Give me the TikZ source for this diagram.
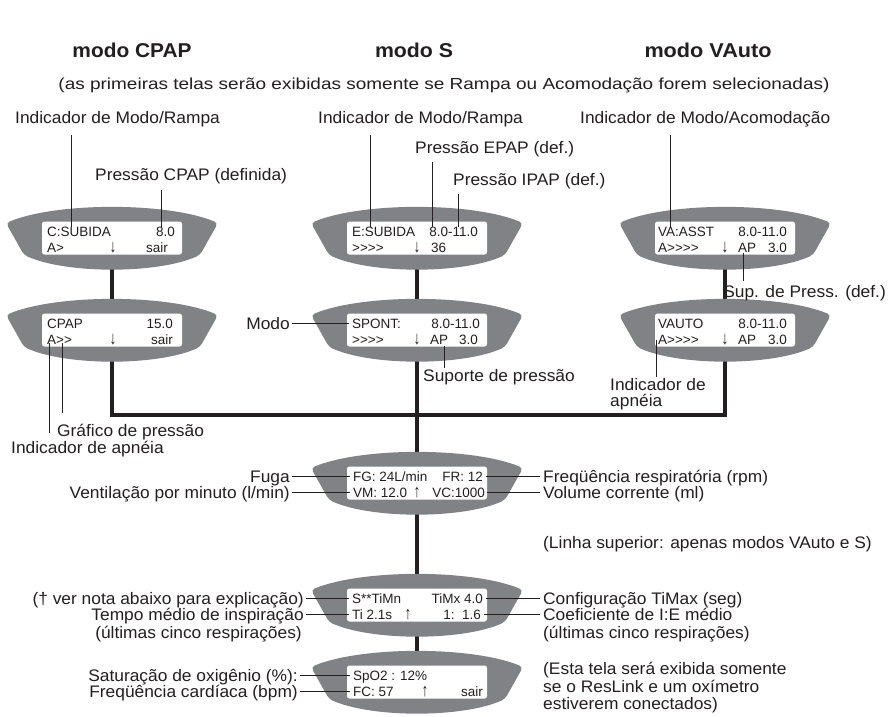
\documentclass[tikz,border=0pt]{standalone}
\usepackage{fontspec}
\usepackage{graphicx}
\setmainfont{Liberation Sans}[FakeStretch=1.04]
\newfontfamily\lcdfont{Liberation Sans}
\newfontfamily\hdfont{Liberation Sans}
\usetikzlibrary{calc}
\definecolor{scrgray}{RGB}{128,130,133}
\definecolor{ink}{RGB}{35,31,32}
\tikzset{
  lbl/.style={inner sep=0pt, text=ink, font=\fontsize{16.7}{19}\selectfont},
  lcdtxt/.style={inner sep=0pt, text=ink, font=\lcdfont\fontsize{13.5}{15}\selectfont},
  conn/.style={line width=3.7pt, draw=ink},
  lead/.style={line width=1pt, draw=ink},
  lcdwin/.style={fill=white, rounded corners=2.5pt, minimum width=140pt, minimum height=33pt, inner sep=0pt},
  hdr/.style={inner sep=0pt, anchor=base, text=ink},
}
\newcommand\lcdscreen[1]{%
  \fill[scrgray, rounded corners=4pt] ($(#1)+(-106,-15)$) .. controls ($(#1)+(-55,-36)$) and ($(#1)+(55,-36)$) .. ($(#1)+(106,-15)$) -- ($(#1)+(88,17)$) .. controls ($(#1)+(45,36)$) and ($(#1)+(-45,36)$) .. ($(#1)+(-88,17)$) -- cycle;
  \node[lcdwin] (#1w) at (#1) {};}
\newcommand\scrtxt[5]{\node[lcdtxt,anchor=#2] (#1) at ($(#3)+(#4)$) {#5};}
\newcommand\leadline[3]{\coordinate (#1a) at (#2); \coordinate (#1b) at (#3); \draw[lead] (#1a) -- (#1b);}
\newcommand\dnarrow{\scalebox{1}[1.35]{↓}}
\newcommand\uparrowlcd{\scalebox{1}[1.35]{↑}}
\begin{document}
\begin{tikzpicture}[x=1pt,y=-1pt]
\useasboundingbox (0,0) rectangle (891,716);
\fill[white] (0,0) rectangle (891,716);

% headers
\node[hdr] (h1) at (132,57) {\resizebox{119pt}{\height}{\hdfont\fontsize{20}{22}\selectfont\bfseries modo CPAP}};
\node[hdr] (h2) at (414,57) {\resizebox{78pt}{\height}{\hdfont\fontsize{20}{22}\selectfont\bfseries modo S}};
\node[hdr] (h3) at (708,57) {\resizebox{127pt}{\height}{\hdfont\fontsize{20}{22}\selectfont\bfseries modo VAuto}};
\node[hdr] (sub) at (444,89) {\resizebox{771pt}{\height}{\hdfont\fontsize{16}{18}\selectfont (as primeiras telas serão exibidas somente se Rampa ou Acomodação forem selecionadas)}};

% screen centres
\coordinate (A1) at (112,238);
\coordinate (A2) at (112,330);
\coordinate (B1) at (417,238);
\coordinate (B2) at (417,330);
\coordinate (C1) at (725,238);
\coordinate (C2) at (725,330);
\coordinate (D) at (417,483);
\coordinate (E) at (417,605);
\coordinate (F) at (417,682);
\coordinate (bus) at (417,415);

% connectors
\draw[conn] (A1) -- (A2);
\draw[conn] (C1) -- (C2);
\draw[conn] (A2) |- (bus) -| (C2);
\draw[conn] (B1) -- (B2) -- (D) -- (E) -- (F);

% screens
\lcdscreen{A1}\lcdscreen{A2}\lcdscreen{B1}\lcdscreen{B2}\lcdscreen{C1}\lcdscreen{C2}
\lcdscreen{D}\lcdscreen{E}\lcdscreen{F}

% screen texts
\scrtxt{a1a}{base west}{A1}{-65,-2}{C:SUBIDA}
\scrtxt{a1b}{base east}{A1}{63,-2}{8.0}
\scrtxt{a1c}{base west}{A1}{-65,14}{A>}
\scrtxt{a1d}{base}{A1}{1,14}{\dnarrow}
\scrtxt{a1e}{base east}{A1}{56,14}{sair}

\scrtxt{a2a}{base west}{A2}{-65,-2}{CPAP}
\scrtxt{a2b}{base east}{A2}{61,-2}{15.0}
\scrtxt{a2c}{base west}{A2}{-65,14}{A>>}
\scrtxt{a2d}{base}{A2}{1,14}{\dnarrow}
\scrtxt{a2e}{base east}{A2}{61,14}{sair}

\scrtxt{b1a}{base west}{B1}{-65,-2}{E:SUBIDA}
\scrtxt{b1b}{base east}{B1}{61,-2}{8.0-11.0}
\scrtxt{b1c}{base west}{B1}{-65,14}{>>>>}
\scrtxt{b1d}{base}{B1}{0,14}{\dnarrow}
\scrtxt{b1e}{base west}{B1}{14,14}{36}

\scrtxt{b2a}{base west}{B2}{-65,-2}{SPONT:}
\scrtxt{b2b}{base east}{B2}{63,-2}{8.0-11.0}
\scrtxt{b2c}{base west}{B2}{-65,14}{>>>>}
\scrtxt{b2d}{base}{B2}{0,14}{\dnarrow}
\scrtxt{b2e}{base west}{B2}{13,14}{AP}
\scrtxt{b2f}{base east}{B2}{61,14}{3.0}

\scrtxt{c1a}{base west}{C1}{-67,-2}{VA:ASST}
\scrtxt{c1b}{base east}{C1}{62,-2}{8.0-11.0}
\scrtxt{c1c}{base west}{C1}{-67,14}{A>>>>}
\scrtxt{c1d}{base}{C1}{0,14}{\dnarrow}
\scrtxt{c1e}{base west}{C1}{13,14}{AP}
\scrtxt{c1f}{base east}{C1}{62,14}{3.0}

\scrtxt{c2a}{base west}{C2}{-67,-2}{VAUTO}
\scrtxt{c2b}{base east}{C2}{62,-2}{8.0-11.0}
\scrtxt{c2c}{base west}{C2}{-67,14}{A>>>>}
\scrtxt{c2d}{base}{C2}{0,14}{\dnarrow}
\scrtxt{c2e}{base west}{C2}{13,14}{AP}
\scrtxt{c2f}{base east}{C2}{62,14}{3.0}

\scrtxt{da}{base west}{D}{-64,-2}{FG: 24L/min}
\scrtxt{db}{base east}{D}{66,-2}{FR: 12}
\scrtxt{dc}{base west}{D}{-64,14}{VM: 12.0}
\scrtxt{dd}{base}{D}{0,14}{\uparrowlcd}
\scrtxt{de}{base east}{D}{68,14}{VC:1000}

\scrtxt{ea}{base west}{E}{-65,-2}{S**TiMn}
\scrtxt{eb}{base east}{E}{66,-2}{TiMx 4.0}
\scrtxt{ec}{base west}{E}{-65,14}{Ti 2.1s}
\scrtxt{ed}{base}{E}{-9,14}{\uparrowlcd}
\scrtxt{ee}{base east}{E}{64,14}{1:\ \ 1.6}

\scrtxt{fa}{base west}{F}{-64,-2}{SpO2 : 12\%}
\scrtxt{fc}{base west}{F}{-64,14}{FC: 57}
\scrtxt{fd}{base}{F}{8,14}{\uparrowlcd}
\scrtxt{fe}{base east}{F}{66,14}{sair}

% labels
\node[lbl,anchor=base west] (lA) at (15,123) {Indicador de Modo/Rampa};
\node[lbl,anchor=base west] (lCP) at (95,180) {Pressão CPAP (definida)};
\node[lbl,anchor=base west] (lB) at (318,123) {Indicador de Modo/Rampa};
\node[lbl,anchor=base west] (lEP) at (415,153) {Pressão EPAP (def.)};
\node[lbl,anchor=base west] (lIP) at (453,185) {Pressão IPAP (def.)};
\node[lbl,anchor=base west] (lC) at (580,123) {Indicador de Modo/Acomodação};
\node[lbl,anchor=base east] (lSup) at (886,297) {Sup. de Press. (def.)};
\node[lbl,anchor=base east] (lModo) at (290,329) {Modo};
\node[lbl,anchor=base west] (lSP) at (423,381) {Suporte de pressão};
\node[lbl,anchor=base west] (lVA1) at (610,390) {Indicador de};
\node[lbl,anchor=base west] (lVA2) at (610,406) {apnéia};
\node[lbl,anchor=base west] (lGr) at (57,436) {Gráfico de pressão};
\node[lbl,anchor=base west] (lCA) at (11,453) {Indicador de apnéia};

\node[lbl,anchor=base east] (lFuga) at (290,482) {Fuga};
\node[lbl,anchor=base east] (lVent) at (290,498) {Ventilação por minuto (l/min)};
\node[lbl,anchor=base west] (lFR) at (543,482) {Freqüência respiratória (rpm)};
\node[lbl,anchor=base west] (lVC) at (543,498) {Volume corrente (ml)};
\node[lbl,anchor=base west] (lLin) at (543,548) {(Linha superior: apenas modos VAuto e S)};

\node[lbl,anchor=base east] (lNota) at (304,604) {(† ver nota abaixo para explicação)};
\node[lbl,anchor=base east] (lTempo) at (304,620) {Tempo médio de inspiração};
\node[lbl,anchor=base east] (lUlt1) at (302,638) {(últimas cinco respirações)};
\node[lbl,anchor=base west] (lCfg) at (543,604) {Configuração TiMax (seg)};
\node[lbl,anchor=base west] (lCoef) at (543,620) {Coeficiente de I:E médio};
\node[lbl,anchor=base west] (lUlt2) at (543,638) {(últimas cinco respirações)};

\node[lbl,anchor=base east] (lSat) at (298,681) {Saturação de oxigênio (\%):};
\node[lbl,anchor=base east] (lFC) at (298,697) {Freqüência cardíaca (bpm)};
\node[lbl,anchor=base west] (lEsta1) at (543,674) {(Esta tela será exibida somente};
\node[lbl,anchor=base west] (lEsta2) at (543,692) {se o ResLink e um oxímetro};
\node[lbl,anchor=base west] (lEsta3) at (543,709) {estiverem conectados)};

% vertical leaders
\leadline{kA}{71,135}{71,227}
\leadline{kCP}{161,190}{161,227}
\leadline{kB}{370,135}{370,227}
\leadline{kEP}{432,162}{432,227}
\leadline{kIP}{458,194}{458,227}
\leadline{kC}{670,135}{670,227}
\leadline{kS}{743,253}{743,281}
\leadline{kSP}{444,346}{444,368}
\leadline{kVA}{656,340}{656,377}
\leadline{kCA}{49,343}{49,433}
\leadline{kG}{62,343}{62,413}

% horizontal leaders
\draw[lead] ($(lModo.base east)+(2,-6)$) -- ($(b2a.base west)+(-3,-5)$);
\draw[lead] ($(lFuga.base east)+(2,-6)$) -- ($(da.base west)+(-3,-5)$);
\draw[lead] ($(lVent.base east)+(2,-6)$) -- ($(dc.base west)+(-3,-5)$);
\draw[lead] ($(db.base east)+(3,-5)$) -- ($(lFR.base west)+(-3,-6)$);
\draw[lead] ($(de.base east)+(2,-5)$) -- ($(lVC.base west)+(-3,-6)$);
\draw[lead] ($(lNota.base east)+(2,-6)$) -- ($(ea.base west)+(-3,-5)$);
\draw[lead] ($(lTempo.base east)+(2,-6)$) -- ($(ec.base west)+(-3,-5)$);
\draw[lead] ($(eb.base east)+(3,-5)$) -- ($(lCfg.base west)+(-3,-6)$);
\draw[lead] ($(ee.base east)+(3,-5)$) -- ($(lCoef.base west)+(-3,-6)$);
\draw[lead] ($(lSat.base east)+(2,-6)$) -- ($(fa.base west)+(-3,-5)$);
\draw[lead] ($(lFC.base east)+(2,-6)$) -- ($(fc.base west)+(-3,-5)$);
\end{tikzpicture}
\end{document}
